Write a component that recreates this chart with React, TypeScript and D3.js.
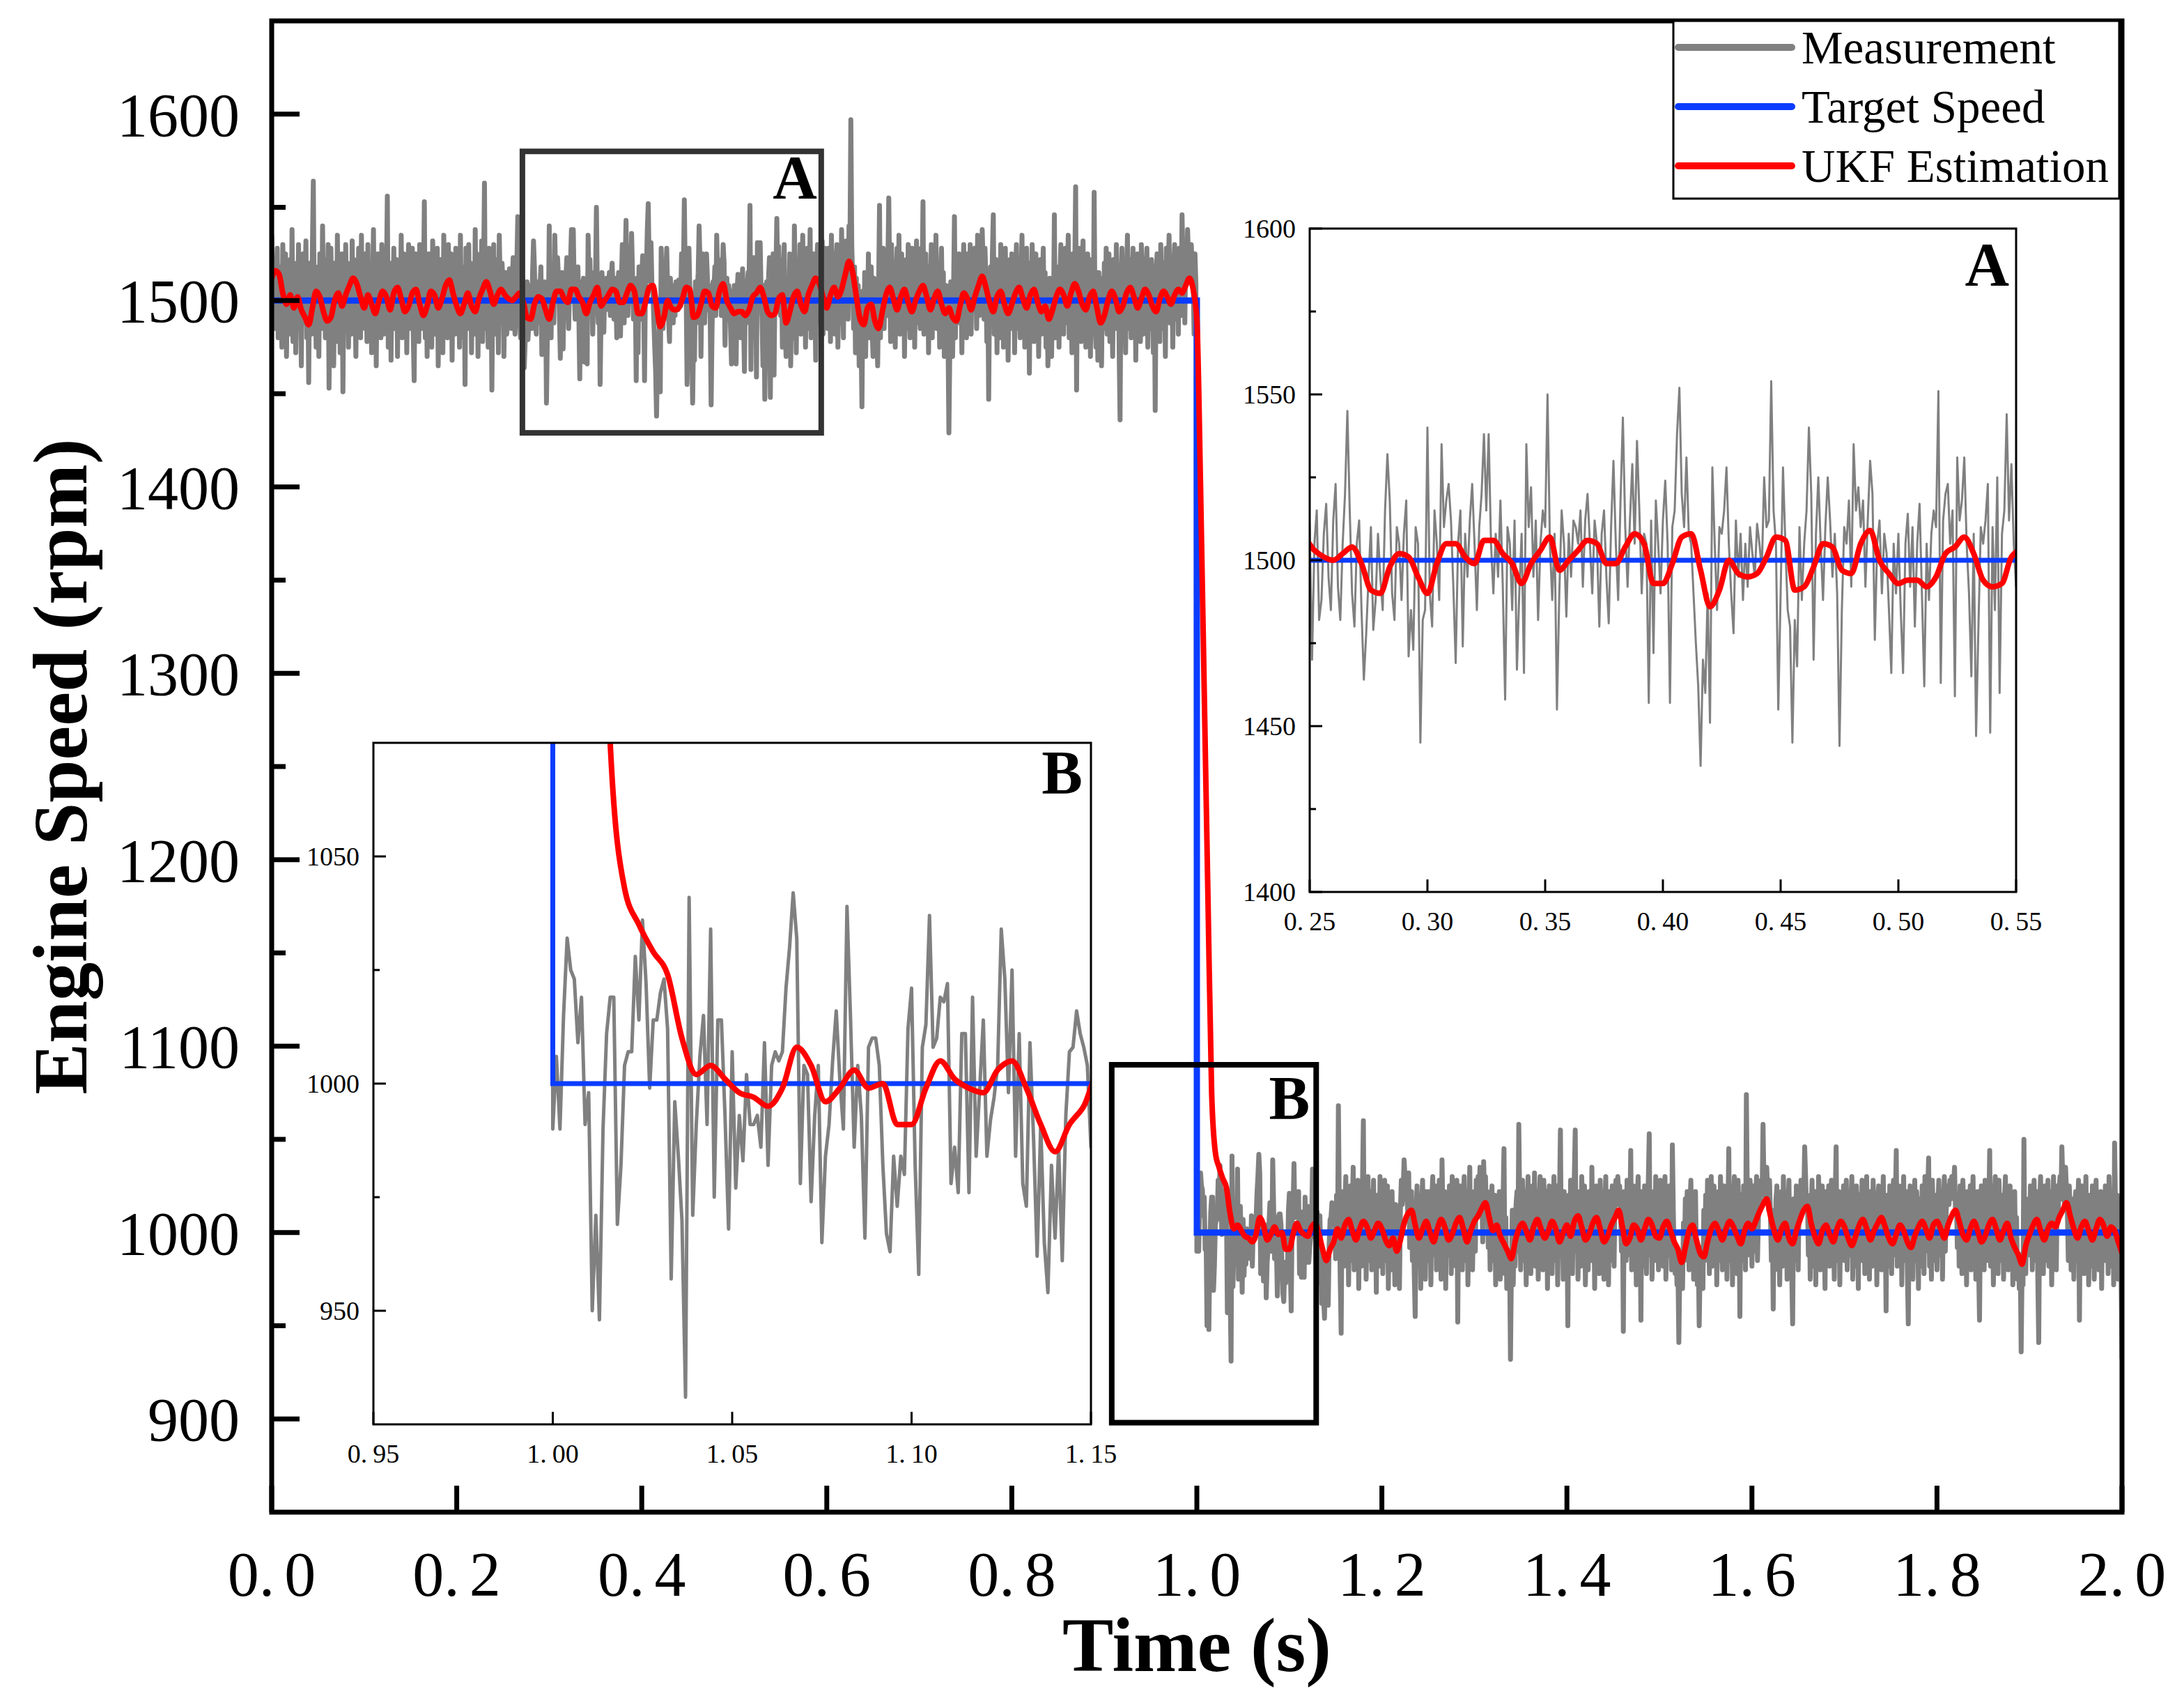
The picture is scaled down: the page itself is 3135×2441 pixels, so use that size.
import * as d3 from 'd3';
import React from 'react';

type Point = { t: number; v: number };

const width = 3135;
const height = 2441;
const frame = { left: 390, right: 3046, top: 30, bottom: 2170 };
const insetAFrame = { left: 1880, right: 2894, top: 328, bottom: 1280 };
const insetBFrame = { left: 536, right: 1566, top: 1066, bottom: 2044 };

const serif = "'Liberation Serif', 'Times New Roman', serif";
const GRAY = '#808080';
const BLUE = '#0a3cff';
const RED = '#ff0000';

// target speed step
const targetTimes = [0, 1.0, 1.0, 2.0];
const targetSpeeds = [1500, 1500, 1000, 1000];

// measured speed minus target speed (rpm), one sample every 1 ms from 0 to 2 s
const measurementDeviation: number[] = [
  35, 12, -8, 22, -15, 5, 28, -20, 10, -5, 18, -25, 30, 2, -12, 25, -30, 8, 15, -18, 22, -10, 38, -22, 5, 12, -28, 20, -6, 30, -15, 10, -35, 18, 25, -12, 8, 32, -20, 15, -44, 20, 5, -18, 28, 64, -10, 15, -25, 8,
  18, -30, 25, 10, -15, 40, -8, 22, -20, 12, -5, 30, -47, 15, 28, -12, 5, -35, 20, 8, -22, 35, -10, 18, -28, 10, 25, -49, 12, -15, 30, -5, 20, -25, 15, 8, -18, 32, -12, 22, 5, -30, 18, -8, 28, 12, -20, 35, -15, 10,
  -10, 25, 8, -22, 30, -15, 12, 20, -28, 5, 38, -12, 18, -35, 10, 25, -8, 15, -20, 30, 5, -18, 22, -10, 12, 56, -25, 8, 20, -32, 15, -5, 28, -15, 10, 22, -30, 18, 5, -12, 35, -20, 12, 25, -8, 18, -28, 10, 30, -15,
  20, -10, 28, -18, -43, 15, 25, -8, 10, -22, 30, 12, -15, 22, 5, 53, -20, 18, -30, 10, 25, -12, 15, -25, 32, 8, -18, 20, -10, 28, -35, 12, 22, -5, 15, -28, 35, -12, 18, 8, -20, 30, -15, 10, 25, -32, 12, 5, -18, 28,
  -12, 22, 10, -25, 35, -8, 18, -20, 12, -45, 28, 5, -15, 30, -10, 20, -28, 15, 8, -18, 38, -12, 25, -30, 10, 18, -8, 32, -22, 15, 63, -15, 20, 5, -25, 28, -10, 18, -48, 12, 30, -18, 22, -5, 15, -28, 35, 8, -12, 20,
  10, -30, 5, 15, -18, -12, 8, 17, -5, -15, 12, 23, -8, -18, 5, 20, 45, 15, -10, -20, 5, 12, -15, -36, -22, -5, 10, -21, -12, 8, -5, -15, 15, 32, 18, -10, -18, 10, 5, -12, 8, 18, -29, -15, -27, 10, 5, -55, -18, -15,
  40, -10, -20, 15, 5, -12, 35, 10, 18, 23, 12, -8, -31, 5, 15, -26, 8, -5, 12, 23, 5, -15, 10, 20, 38, 15, 38, 5, -10, 8, -5, 18, -8, -42, 10, 5, -15, 12, -33, -10, 8, -34, 35, 10, 22, -5, 12, -18, 5, 15,
  10, 50, 5, -12, 8, -45, -10, 15, 5, -17, 8, -5, 12, 10, 5, 15, -8, 12, 20, 5, -10, 12, 5, -20, 8, 15, -5, -19, 10, 30, 5, -12, 18, 43, 10, -8, 12, 29, 5, 36, 15, -10, 8, 5, -43, 12, -28, 18, 5, -10,
  12, 24, 5, -43, 10, 15, 38, 52, 20, 10, 31, 8, 5, -10, -25, -38, -62, -30, -40, -10, -49, 28, 5, -15, 10, 8, 15, 28, 5, -10, -22, 12, -5, 8, -12, 5, -8, 10, 2, -5, 11, 5, -3, 25, 10, 12, 54, 15, 5, -45,
  -10, 28, 5, -15, -20, -55, -18, -32, 10, -12, 5, 15, 40, 20, -30, 8, 25, 5, -12, 10, 25, 12, -5, 8, -10, -56, -15, 10, 5, 18, -8, 35, 15, 22, 10, 18, -8, 12, 30, 20, -24, 5, 12, -10, 8, 2, -15, -34, 5, -10,
  8, -15, -34, 5, 14, -8, 10, -20, 5, 17, -10, -38, 5, -12, 8, 15, 10, 51, -37, 12, 20, 23, 5, 15, -41, 31, 12, 18, 31, 5, -10, -35, 8, -53, -20, 10, 5, 12, 23, -52, 10, -15, 25, -40, 8, 15, 44, 12, 29, 5,
  -8, 22, -25, 10, 30, -15, -30, -22, 12, -10, 25, -35, 8, 18, -20, 40, 5, -28, 15, 22, -12, 30, -18, 10, 35, -8, 20, -25, 12, 28, -15, 5, 38, -20, 15, -10, 25, 8, -32, 18, 30, -12, 22, -5, 15, 32, -18, 10, 28, 5,
  20, -15, 28, 10, -22, 35, 12, -8, 25, -18, 15, 30, -25, 8, 22, -12, 38, 5, -20, 28, 12, 32, 15, -10, 40, 25, 97, 30, 10, -15, 18, -28, 12, -22, 8, -35, -10, -18, -57, 5, -25, 15, -30, 10, -12, 25, -20, 8, 18, -15,
  -30, 12, -25, 8, -18, -35, 5, 51, -20, 15, -10, 28, -15, 10, 22, -8, 18, 55, 12, -22, 30, -12, 20, 8, -25, 15, 28, -10, 35, -18, 12, 25, -8, 18, -30, 10, 22, -15, 30, 5, -20, 12, 28, -10, 18, -25, 15, 32, -12, 8,
  20, -15, 28, 10, 53, -18, 12, 25, -10, 18, -28, 15, 5, 30, -20, 12, 22, -8, 35, -15, 10, 18, -25, 12, 28, -10, 15, -30, -12, 8, -22, -18, -71, -25, 10, -15, -30, 5, 45, -20, 12, -12, 18, 25, -8, 15, -28, 10, 30, -15,
  12, -20, 25, 8, -12, 30, -18, 15, 22, -5, 28, 12, -15, 35, 18, -8, 25, 10, 38, 20, -10, 28, 12, -22, 15, -53, 8, 18, -12, 25, 46, -18, 10, 22, -28, 15, 5, -20, 30, -10, 18, -25, 12, 28, -8, 15, -32, 10, 22, -15,
  25, -10, 18, -28, 12, 30, -15, 8, 22, -20, 15, 35, -12, 10, -25, 18, 28, -8, 12, -39, 20, -15, 30, 10, -22, 15, 25, -10, 18, -30, 12, 22, -18, 8, 28, -12, 15, -25, 10, -35, -15, 12, -22, -30, 8, -10, 46, -20, 15, 5,
  18, -25, 12, 30, -10, 22, -18, 15, 28, -12, 10, 35, -20, 18, 8, -28, 25, -5, 15, 61, -48, 20, -12, 28, 10, -22, 15, 32, -15, 12, -25, 18, 25, -10, 15, -30, 22, 8, -18, 58, -12, -25, 10, -32, 15, -20, -8, -35, 12, -15,
  20, -10, 28, -18, 12, 25, -22, 15, 8, -30, 22, 12, -15, 30, -8, 18, -25, -64, 10, 28, -12, 20, 5, -28, 15, 35, -15, 12, 22, -20, 10, 28, -10, 18, -32, 15, 25, -8, 12, -22, 30, 10, -18, 22, -12, 15, 28, -25, 10, 18,
  -15, 22, 10, -28, 15, -59, 12, 25, -10, 18, -22, 30, 8, -15, 20, 12, -30, 28, -8, 15, 35, -12, 22, 10, -25, 18, 30, -10, 15, 22, -18, 28, 12, -8, 46, 20, 30, -12, 25, 15, 38, 22, 10, 28, 30, 18, 12, -18, 25, 8,
  -10, 6, -10, 15, 32, 25, 23, 9, 19, -9, -2, -50, -29, -52, -10, 11, 19, 19, -31, -18, 4, 7, 7, 28, 14, 36, 22, -1, 14, 14, 20, 23, 12, -43, -4, -16, -30, -69, 41, -29, -9, 6, 15, -9, 34, -25, 14, 14, -7, -32,
  7, -23, -7, -17, 2, -9, -9, -7, -14, 9, -18, 4, 7, 5, 7, 21, 30, 42, 32, -22, 4, 2, -26, -7, 4, -35, -16, -9, 5, 16, 1, -10, 39, 14, -14, 4, -7, -34, 8, 10, 10, 4, -18, -33, -37, -16, -27, -16, -20, 12,
  21, -18, -42, 8, 13, 37, 8, 10, 19, 18, 22, -22, -14, -24, 11, 11, -24, 19, -16, -1, 14, -16, -8, -3, 4, 34, 23, -2, 25, -16, 11, -22, -27, 9, -12, -38, -9, -35, -46, -18, -34, -14, -39, -7, 7, 8, 16, 11, 8, 4,
  -14, 20, -10, 68, 12, -25, -54, 15, 22, -18, 10, 30, -12, 18, -28, 8, 25, -15, 12, 35, -20, 10, 22, -8, 28, -30, 15, 5, -18, 25, 60, -12, 18, -25, 10, 30, -15, 8, 22, -20, 12, 28, -10, 15, -32, 20, 8, -18, 30, -12,
  18, -22, 10, 28, -15, 12, 25, -30, 8, 15, -20, 22, -12, 10, -28, 15, -18, -25, 5, -30, 12, 28, 15, 22, 39, 30, 18, 25, 10, 32, -8, 15, 22, -15, 10, -22, -45, 12, 25, -18, 8, 20, -30, 15, 28, -10, 12, -25, 22, 5,
  -15, 22, 10, -28, 18, 30, -12, 8, 25, -20, 15, -8, 28, 12, -25, 39, 10, -15, 22, -30, 18, 8, -12, 25, 15, -22, 30, -10, 12, 20, -18, 28, -48, 15, -10, 25, 8, -20, 18, 30, -15, 12, 22, -28, 10, 35, -12, 18, -20, 8,
  22, -10, 28, 15, 30, 12, 35, 20, 25, -5, 38, 18, 30, 10, 22, -8, 15, -20, 12, 25, -15, 8, 20, -28, 12, -18, 15, 22, -25, 10, -12, 18, 45, -22, 8, -30, -15, -25, -10, -68, -20, 12, -28, 5, -18, 15, 22, -10, 58, 15,
  -20, 12, 28, -15, 8, 22, -28, 15, 30, -10, 18, -22, 10, 25, -12, 32, -18, 8, 22, -25, 15, 30, -8, 12, -20, 28, 10, -15, 22, -30, 12, 25, -10, 18, -22, 8, 30, -15, 12, 25, -28, 10, 20, 55, -12, 15, -25, 22, 8, -18,
  12, -50, 20, -15, 28, 8, -22, 15, 30, 55, -10, 18, -25, 12, 22, -18, 30, 10, -12, 25, -28, 15, 8, -20, 22, 12, -15, 35, -8, 18, -30, 10, 25, -12, 15, -22, 28, 8, -18, 20, -25, 12, 30, -10, 15, -28, 22, 8, -15, 25,
  10, -18, 22, 28, 15, 30, 20, 25, 12, -10, 18, -53, 22, 10, -15, 28, -12, 18, 8, 44, -20, 15, 25, -10, 12, -28, 18, 30, -15, 8, -47, 22, 10, -18, 25, 12, -22, 15, 28, 53, -12, 18, -25, 10, 22, -15, 30, -8, 12, -20,
  15, 28, -10, 22, -18, 12, 30, -25, 8, 18, -12, 25, 10, -20, 47, 12, -15, -22, -10, -28, -18, -59, -20, -25, -12, -30, 5, -15, 18, -8, 22, 12, -20, 15, 28, -10, 18, -25, 10, 22, -15, -28, -10, -50, -18, -25, -8, -30, 12, -15,
  20, -12, 28, 10, -22, 15, 30, -18, 8, 25, -10, 18, -28, 12, 22, -15, 30, 8, -20, 15, 25, -12, 18, -25, 10, 45, -15, 22, 12, -28, 18, 30, -10, 15, -22, 28, 8, -45, 20, 12, -15, 25, 10, -20, 74, 18, 22, -12, 28, 15,
  -18, 12, 25, -10, 18, 30, -15, 8, 22, 15, 28, 20, 58, 25, 30, 18, 35, 22, 12, 28, 10, -15, 8, -41, 12, -20, 18, 25, -12, 15, -28, 10, 22, -18, 30, 8, -15, 20, -25, 12, 28, -10, 15, -22, -49, 18, 10, -15, 25, 12,
  -20, 22, 10, 28, 15, 25, 18, 46, 30, 12, 20, -12, 15, -25, 10, 28, -18, 12, 22, -28, 15, -10, 30, 8, -20, 18, 25, -15, 12, -30, 22, 10, -12, 25, -18, 15, 28, -8, 12, -25, 20, 46, -15, 10, 22, -28, 12, 18, -10, 25,
  -15, 12, 28, -20, 10, 22, -12, 18, 30, -25, 15, 8, -18, 25, 12, -30, 20, 10, -15, 28, -10, 18, -22, 12, 30, -8, 15, -25, 22, 10, -18, 28, 12, -12, 20, -28, 15, 25, -10, 18, -20, 12, 30, -15, 8, -42, 20, 12, -18, 25,
  10, -22, 18, 28, -12, 15, 44, -18, 12, 25, -10, 20, -28, 15, 30, -15, 8, 22, -20, -49, 12, 25, -12, 18, -25, 10, 28, -15, 22, 12, -30, 18, 8, -18, 25, 12, -22, 30, -10, 15, 22, 40, -18, 12, -25, 28, 10, -15, 20, 8,
  -20, 15, 28, -12, 22, 10, -25, 18, 30, -10, 12, 25, 20, 15, 28, 18, 30, 22, 25, 35, 12, 20, -8, 15, -18, 25, 10, -22, 28, 12, -15, 18, -28, 22, 10, -12, 25, -20, 15, 30, -10, 18, -25, 12, 22, -18, -47, 10, 25, -12,
  15, -20, 28, 10, -15, 22, 12, 44, -18, 25, 10, -28, 18, 30, -12, 15, -22, 28, 8, -15, 20, 12, -25, 18, 30, -10, 15, -20, 12, 25, -12, 18, -28, 10, 22, -15, 8, -25, -18, -30, -12, -64, -20, -28, 50, -15, -22, 12, -10, 18,
  -12, 25, 10, -20, 18, 28, -15, 12, 22, -25, -59, 15, 30, -10, 18, -22, 12, 25, -15, 8, 28, -18, 15, 22, -28, 10, 30, -12, 18, -20, 25, 12, 22, 30, 18, 46, 28, 20, 15, 35, 22, 10, -15, 25, 12, -20, 18, 8, -25, 15,
  22, -15, 10, 28, -47, 15, -12, 25, 18, -22, 12, 30, -10, 15, -28, 20, 8, -18, 25, 12, -25, 18, 28, -12, 15, -20, 10, 22, -30, 18, 12, -15, 25, -8, 18, -22, 30, 10, -18, 15, 22, -28, 48, 12, -15, 20, -25, 10, 18, -20,
  -68,
];

// UKF estimate minus target speed (rpm), one value every 4 ms from 0 to 2 s
const estimateDeviation: number[] = [
  12, 16, 14, 4, -2, 3, -4, 2, -5, -9, -13, -4, 5, 2, -6, -11, -9, 0, 4, -3, 3, 8, 12, 9, 2,
  -4, 3, -2, -7, 0, 5, 2, -5, 4, 7, 1, -6, -3, 4, 6, -2, -8, -3, 5, 3, -4, 1, 8, 11, 4,
  -3, -7, -2, 4, -3, -6, 1, 6, 10, 5, -2, 3, 6, 3, 1, 0, 2, 4, -1, -9, -10, -2, 2, 1, -5,
  -10, -1, 5, 5, 1, -1, 6, 6, 2, -1, -7, -1, 3, 7, -3, 0, 3, 6, 5, -1, -1, 4, 8, 5, -7,
  -7, -1, 7, 8, -3, -14, -9, 0, -4, -5, -4, 1, 7, 6, -9, -8, -2, 5, 4, -3, -4, 5, 9, 0, -4,
  -7, -6, -6, -8, -5, 2, 4, 7, 2, -6, -8, -7, 1, 3, -12, -6, 2, 5, -2, -6, 3, 8, 12, 9, 2,
  -4, 3, 7, 2, 6, 14, 21, 15, 2, -10, -13, -4, -2, -11, -15, -6, 3, 7, 1, -5, 2, 6, -1, -6, 0,
  5, 8, 2, -5, 1, 5, -2, -7, -4, -9, -11, -3, 4, 1, -5, 2, 8, 13, 7, -1, -6, 2, 5, -2, -7,
  -2, 4, 7, 1, -4, 3, 6, -1, -6, -3, -10, -5, 2, 6, 3, -3, 4, 9, 5, -2, -5, 2, 5, -4, -12,
  -8, 0, 5, 1, -6, -3, 4, 7, 2, -4, 1, 6, 3, -3, -6, 1, 5, 2, -2, 3, 6, 4, 8, 12, 6,
  490, 400, 290, 180, 75, 43, 35, 29, 24, 10, 2, 4, 1, -2, -3, -5, -1, 8, 4, -4, -1, 3, -1, 0, -9,
  -9, -1, 5, 1, -1, -2, 3, 5, -1, -9, -15, -9, -5, 2, -3, 4, 7, 1, -4, 2, 6, 3, -3, 1, 5,
  2, -4, -7, -3, -10, -4, 5, 10, 12, 4, -3, 2, 6, 0, -5, 2, 7, 3, -4, -1, 5, 8, 2, -5, 1,
  6, 9, 13, 16, 8, 1, 4, -2, -6, -10, -14, -5, 2, 5, 1, -4, 3, 7, 2, -3, 1, 6, 2, -5, 0,
  4, -2, 6, 9, 3, -4, -1, 5, 8, 2, -5, -2, 4, 8, 12, 3, -6, -3, 4, 2, -4, 2, 7, 4, -2,
  -3, 3, 6, 1, -5, -9, -16, -8, 1, 4, -4, -11, -13, -5, 2, 5, 1, -4, 2, 6, 3, -2, -6, 1, 5,
  2, 6, 11, 15, 18, 9, 1, -4, 2, 5, -3, -6, 1, 7, 12, 14, 5, -2, -6, 1, 4, -1, -5, 2, 6,
  3, -3, -7, -2, 4, 7, 2, -4, 1, 5, 8, 3, -3, -6, -1, 4, 1, -5, -8, -2, 3, 6, 2, -3, 4,
  6, 2, -3, 4, 9, 12, 6, -1, -4, 2, 6, 1, -5, -2, 4, 7, 2, -4, 1, 5, -3, -8, -12, -17, -7,
  -1, 4, 7, 1, -4, 2, 5, 3, 8, 12, 16, 9, 2, -3, 3, 6, 1, -4, 2, 7, 4, -2, 3, 1, -5,
  -11,
];

const measurementPerSecond = 1000;
const estimatePerSecond = 250;

const mainXTicks = [0, 0.2, 0.4, 0.6, 0.8, 1.0, 1.2, 1.4, 1.6, 1.8, 2.0];
const mainYTicks = [900, 1000, 1100, 1200, 1300, 1400, 1500, 1600];
const mainYMinor = [950, 1050, 1150, 1250, 1350, 1450, 1550];

const insetAXTicks = [0.25, 0.3, 0.35, 0.4, 0.45, 0.5, 0.55];
const insetAYTicks = [1400, 1450, 1500, 1550, 1600];
const insetAYMinor = [1425, 1475, 1525, 1575];

const insetBXTicks = [0.95, 1.0, 1.05, 1.1, 1.15];
const insetBYTicks = [950, 1000, 1050];
const insetBYMinor = [975, 1025];

// zoom windows and the boxes that mark them on the main plot
const zoomATime: [number, number] = [0.25, 0.55];
const zoomASpeed: [number, number] = [1400, 1600];
const zoomBTime: [number, number] = [0.95, 1.15];
const zoomBSpeed: [number, number] = [925, 1075];
const boxATime = [0.271, 0.594];
const boxASpeed = [1429, 1580];
const boxBTime = [0.908, 1.129];
const boxBSpeed = [898, 1090];

const legendLabels = ['Measurement', 'Target Speed', 'UKF Estimation'];
const legendColors = [GRAY, BLUE, RED];

const stepTime = targetTimes[1];
const targetAt = (t: number): number => (t < stepTime ? targetSpeeds[0] : targetSpeeds[3]);

const measurement: Point[] = measurementDeviation.map((d, i) => {
  const t = i / measurementPerSecond;
  return { t, v: targetAt(t) + d };
});
const estimate: Point[] = estimateDeviation.map((d, j) => {
  const t = j / estimatePerSecond;
  return { t, v: targetAt(t) + d };
});
const target: Point[] = targetTimes.map((t, i) => ({ t, v: targetSpeeds[i] }));

function DecimalLabel(props: any): any {
  const parts = props.value.toFixed(props.digits).split('.');
  return (
    <text x={props.x} y={props.y} fontSize={props.size} textAnchor="middle" fontFamily={serif}>
      {parts[0] + '.'}
      <tspan dx={props.gap}>{parts[1]}</tspan>
    </text>
  );
}

function Traces(props: any): any {
  const x = props.x;
  const y = props.y;
  const [t0, t1] = props.tRange;
  const near = (d: Point) => d.t >= t0 - 0.01 && d.t <= t1 + 0.01;
  const straight = d3.line<Point>().x((d) => x(d.t)).y((d) => y(d.v));
  const smooth = d3
    .line<Point>()
    .x((d) => x(d.t))
    .y((d) => y(d.v))
    .curve(d3.curveMonotoneX);
  return (
    <g clipPath={'url(#' + props.clipId + ')'}>
      <path d={straight(measurement.filter(near)) || ''} fill="none" stroke={GRAY}
        strokeWidth={props.grayWidth} strokeLinejoin="round" />
      <path d={straight(target) || ''} fill="none" stroke={BLUE} strokeWidth={props.blueWidth} />
      <path d={smooth(estimate.filter(near)) || ''} fill="none" stroke={RED}
        strokeWidth={props.redWidth} strokeLinejoin="round" />
    </g>
  );
}

function Inset(props: any): any {
  const f = props.frame;
  const x = d3.scaleLinear().domain(props.tRange).range([f.left, f.right]);
  const y = d3.scaleLinear().domain(props.vRange).range([f.bottom, f.top]);
  return (
    <g>
      <rect x={f.left} y={f.top} width={f.right - f.left} height={f.bottom - f.top} fill="white" />
      <Traces x={x} y={y} clipId={props.clipId} tRange={props.tRange}
        grayWidth={props.grayWidth} blueWidth={7} redWidth={8} />
      {props.xTicks.map((t: number) => (
        <g key={'x' + t}>
          <line x1={x(t)} x2={x(t)} y1={f.bottom} y2={f.bottom - 18} stroke="black" strokeWidth={3} />
          <DecimalLabel x={x(t)} y={f.bottom + 55} value={t} digits={2} size={38} gap={8} />
        </g>
      ))}
      {props.yTicks.map((v: number) => (
        <g key={'y' + v}>
          <line x1={f.left} x2={f.left + 18} y1={y(v)} y2={y(v)} stroke="black" strokeWidth={3} />
          <text x={f.left - 20} y={y(v) + 13} fontSize={38} textAnchor="end" fontFamily={serif}>{v}</text>
        </g>
      ))}
      {props.yMinor.map((v: number) => (
        <line key={'m' + v} x1={f.left} x2={f.left + 9} y1={y(v)} y2={y(v)} stroke="black" strokeWidth={3} />
      ))}
      <rect x={f.left} y={f.top} width={f.right - f.left} height={f.bottom - f.top}
        fill="none" stroke="black" strokeWidth={3} />
      <text x={props.labelX} y={props.labelY} fontSize={88} fontWeight="bold" textAnchor="end"
        fontFamily={serif}>{props.label}</text>
    </g>
  );
}

export default function App(): any {
  const x = d3.scaleLinear().domain([0, 2]).range([frame.left, frame.right]);
  const y = d3.scaleLinear().domain([850, 1650]).range([frame.bottom, frame.top]);

  const box = (ts: number[], vs: number[]) => ({
    x: x(ts[0]),
    y: y(vs[1]),
    w: x(ts[1]) - x(ts[0]),
    h: y(vs[0]) - y(vs[1]),
  });
  const a = box(boxATime, boxASpeed);
  const b = box(boxBTime, boxBSpeed);

  return (
    <svg width={width} height={height} viewBox={'0 0 ' + width + ' ' + height}
      style={{ position: 'absolute', left: 0, top: 0, background: 'white' }}>
      <defs>
        <clipPath id="clipMain">
          <rect x={frame.left} y={frame.top} width={frame.right - frame.left} height={frame.bottom - frame.top} />
        </clipPath>
        <clipPath id="clipA">
          <rect x={insetAFrame.left} y={insetAFrame.top} width={insetAFrame.right - insetAFrame.left}
            height={insetAFrame.bottom - insetAFrame.top} />
        </clipPath>
        <clipPath id="clipB">
          <rect x={insetBFrame.left} y={insetBFrame.top} width={insetBFrame.right - insetBFrame.left}
            height={insetBFrame.bottom - insetBFrame.top} />
        </clipPath>
      </defs>
      <rect x={0} y={0} width={width} height={height} fill="white" />

      <Traces x={x} y={y} clipId="clipMain" tRange={[0, 2]} grayWidth={7} blueWidth={9} redWidth={8} />

      <rect x={a.x} y={a.y} width={a.w} height={a.h} fill="none" stroke="#333333" strokeWidth={8} />
      <text x={a.x + a.w - 6} y={a.y + 67} fontSize={88} fontWeight="bold" textAnchor="end" fontFamily={serif}>A</text>
      <rect x={b.x} y={b.y} width={b.w} height={b.h} fill="none" stroke="black" strokeWidth={8} />
      <text x={b.x + b.w - 9} y={b.y + 77} fontSize={88} fontWeight="bold" textAnchor="end" fontFamily={serif}>B</text>

      <Inset frame={insetAFrame} tRange={zoomATime} vRange={zoomASpeed} clipId="clipA"
        xTicks={insetAXTicks} yTicks={insetAYTicks} yMinor={insetAYMinor} grayWidth={3}
        label="A" labelX={insetAFrame.right - 10} labelY={insetAFrame.top + 81} />
      <Inset frame={insetBFrame} tRange={zoomBTime} vRange={zoomBSpeed} clipId="clipB"
        xTicks={insetBXTicks} yTicks={insetBYTicks} yMinor={insetBYMinor} grayWidth={5}
        label="B" labelX={insetBFrame.right - 12} labelY={insetBFrame.top + 72} />

      {mainXTicks.map((t) => (
        <g key={'mx' + t}>
          <line x1={x(t)} x2={x(t)} y1={frame.bottom} y2={frame.bottom - 38} stroke="black" strokeWidth={7} />
          <DecimalLabel x={x(t)} y={frame.bottom + 120} value={t} digits={1} size={90} gap={14} />
        </g>
      ))}
      {mainYTicks.map((v) => (
        <g key={'my' + v}>
          <line x1={frame.left} x2={frame.left + 40} y1={y(v)} y2={y(v)} stroke="black" strokeWidth={7} />
          <text x={frame.left - 46} y={y(v) + 31} fontSize={88} textAnchor="end" fontFamily={serif}>{v}</text>
        </g>
      ))}
      {mainYMinor.map((v) => (
        <line key={'mm' + v} x1={frame.left} x2={frame.left + 20} y1={y(v)} y2={y(v)} stroke="black" strokeWidth={7} />
      ))}
      <rect x={frame.left} y={frame.top} width={frame.right - frame.left} height={frame.bottom - frame.top}
        fill="none" stroke="black" strokeWidth={7} />

      <g>
        <rect x={2402} y={30} width={640} height={255} fill="white" stroke="black" strokeWidth={3} />
        {legendLabels.map((label, i) => (
          <g key={label}>
            <line x1={2409} x2={2572} y1={68 + i * 85} y2={68 + i * 85} stroke={legendColors[i]}
              strokeWidth={10} strokeLinecap="round" />
            <text x={2586} y={91 + i * 85} fontSize={67} fontFamily={serif}>{label}</text>
          </g>
        ))}
      </g>

      <text x={(frame.left + frame.right) / 2} y={2398} fontSize={110} fontWeight="bold" textAnchor="middle"
        fontFamily={serif}>Time (s)</text>
      <text transform={'translate(124,' + (frame.top + frame.bottom) / 2 + ') rotate(-90)'} fontSize={110}
        fontWeight="bold" textAnchor="middle" fontFamily={serif}>Engine Speed (rpm)</text>
    </svg>
  );
}
